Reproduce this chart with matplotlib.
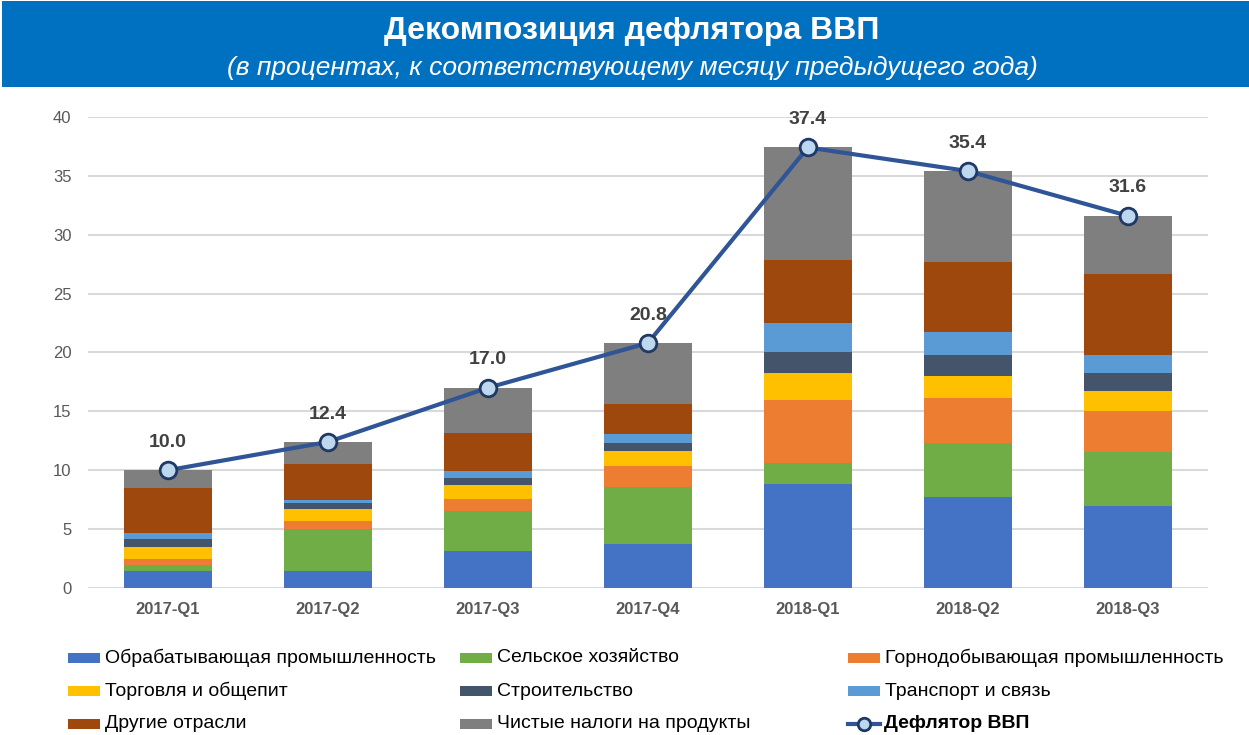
import numpy as np
import matplotlib.pyplot as plt
from matplotlib.patches import Rectangle
from matplotlib.lines import Line2D

plt.rcParams['font.family'] = ['Liberation Sans', 'DejaVu Sans']

quarters = ['2017-Q1', '2017-Q2', '2017-Q3', '2017-Q4', '2018-Q1', '2018-Q2', '2018-Q3']

manufacturing = [1.47, 1.47, 3.14, 3.77, 8.83, 7.70, 6.94]
agriculture = [0.48, 3.54, 3.40, 4.81, 1.81, 4.59, 4.58]
mining = [0.51, 0.65, 1.02, 1.78, 5.35, 3.82, 3.54]
trade = [1.05, 1.02, 1.16, 1.27, 2.27, 1.89, 1.64]
construction = [0.62, 0.57, 0.65, 0.66, 1.78, 1.76, 1.56]
transport = [0.51, 0.22, 0.59, 0.76, 2.44, 1.95, 1.53]
other = [3.83, 3.03, 3.23, 2.55, 5.35, 5.95, 6.88]
net_taxes = [1.53, 1.90, 3.81, 5.20, 9.57, 7.74, 4.93]
deflator = [10.0, 12.4, 17.0, 20.8, 37.4, 35.4, 31.6]

series = [
    ('Обрабатывающая промышленность', manufacturing, '#4472C4'),
    ('Сельское хозяйство', agriculture, '#70AD47'),
    ('Горнодобывающая промышленность', mining, '#ED7D31'),
    ('Торговля и общепит', trade, '#FFC000'),
    ('Строительство', construction, '#44546A'),
    ('Транспорт и связь', transport, '#5B9BD5'),
    ('Другие отрасли', other, '#9E480E'),
    ('Чистые налоги на продукты', net_taxes, '#7F7F7F'),
]

W, H = 1249, 735
fig = plt.figure(figsize=(W / 100, H / 100), dpi=100)

# title banner
fig.patches.append(Rectangle((0.002, 0.882), 0.998, 0.116, transform=fig.transFigure,
                             facecolor='#0070C0', edgecolor='none', zorder=0))
fig.text(0.506, 0.958, 'Декомпозиция дефлятора ВВП', color='white', fontsize=23,
         fontweight='bold', ha='center', va='center')
fig.text(0.506, 0.907, '(в процентах, к соответствующему месяцу предыдущего года)',
         color='white', fontsize=19, style='italic', ha='center', va='center')

ax = fig.add_axes([0.0705, 0.2, 0.8965, 0.641])
x = np.arange(len(quarters))
bottom = np.zeros(len(quarters))
for name, vals, col in series:
    ax.bar(x, vals, 0.55, bottom=bottom, color=col, zorder=2)
    bottom += np.array(vals)

ax.plot(x, deflator, color='#2F5597', lw=3, marker='o', ms=12, mfc='#BDD7EE',
        mec='#1F3864', mew=2, zorder=3)
for xi, v in zip(x, deflator):
    ax.annotate(f'{v:.1f}', (xi, v), xytext=(0, 14), textcoords='offset points',
                ha='center', va='bottom', fontsize=14, fontweight='bold', color='#404040')

ax.set_xlim(-0.5, 6.5)
ax.set_ylim(0, 40)
ax.set_yticks(range(0, 41, 5))
ax.set_xticks(x)
ax.set_xticklabels(quarters, fontweight='bold', color='#595959', fontsize=12)
ax.tick_params(axis='y', labelsize=12, labelcolor='#595959', length=0, pad=12)
ax.tick_params(axis='x', length=0, pad=10)
ax.grid(axis='y', color='#D9D9D9', lw=1.5, zorder=0)
for s in ax.spines.values():
    s.set_visible(False)

# legend drawn by hand: 3 columns, filled row by row
col_x = [68, 460, 848]
row_y = [658, 691, 724]
labels = [s[0] for s in series] + ['Дефлятор ВВП']
colors = [s[2] for s in series] + [None]
for i, (lab, col) in enumerate(zip(labels, colors)):
    px, py = col_x[i % 3], row_y[i // 3]
    fx, fy = px / W, 1 - py / H
    if col is not None:
        fig.patches.append(Rectangle((fx, fy - 5 / H), 32 / W, 10 / H,
                                     transform=fig.transFigure, facecolor=col,
                                     edgecolor='none'))
        fig.text((px + 37) / W, fy, lab, fontsize=14, color='#000000', va='center')
    else:
        fig.lines.append(Line2D([fx, fx + 32 / W], [fy, fy], transform=fig.transFigure,
                                color='#2F5597', lw=3))
        fig.lines.append(Line2D([fx + 16 / W], [fy], transform=fig.transFigure,
                                marker='o', ms=9, mfc='#BDD7EE', mec='#1F3864', mew=2))
        fig.text((px + 36) / W, fy, lab, fontsize=14, fontweight='bold',
                 color='#000000', va='center')

fig.savefig('out.png', dpi=100)
